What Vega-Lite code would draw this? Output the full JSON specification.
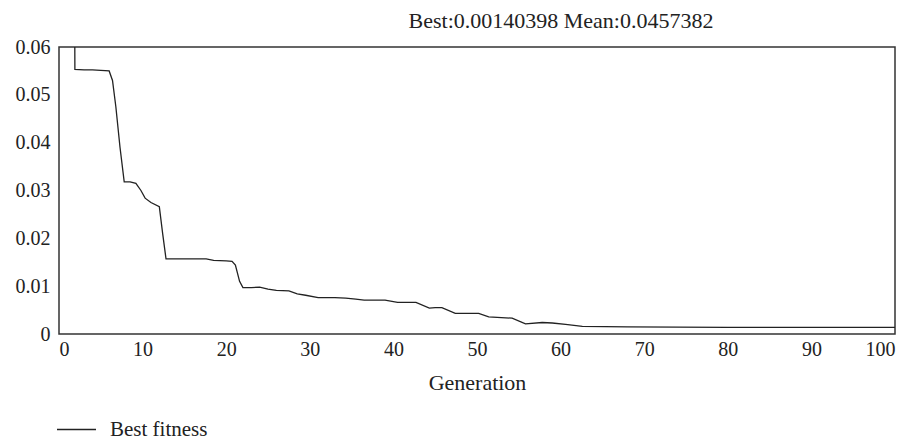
{
  "$schema": "https://vega.github.io/schema/vega-lite/v6.json",
  "width": 836,
  "height": 287,
  "autosize": {"type": "none"},
  "padding": {"left": 59, "top": 47, "right": 21, "bottom": 107},
  "background": "white",
  "title": {
    "text": "Best:0.00140398 Mean:0.0457382",
    "font": "Liberation Serif",
    "fontSize": 22,
    "fontWeight": "normal",
    "color": "#222",
    "anchor": "middle",
    "dx": 84,
    "offset": 4
  },
  "config": {
    "view": {"stroke": "#333", "strokeWidth": 1.5},
    "axis": {
      "labelFont": "Liberation Serif",
      "titleFont": "Liberation Serif",
      "labelColor": "#222",
      "titleColor": "#222",
      "labelFontSize": 20,
      "titleFontSize": 22,
      "titleFontWeight": "normal",
      "domain": false,
      "ticks": false,
      "grid": false
    },
    "legend": {
      "labelFont": "Liberation Serif",
      "labelFontSize": 21,
      "labelColor": "#222"
    }
  },
  "data": {
    "values": [
      {"gen": 1.85, "fitness": 0.08},
      {"gen": 1.9, "fitness": 0.0553},
      {"gen": 3, "fitness": 0.0552},
      {"gen": 4, "fitness": 0.0552},
      {"gen": 5, "fitness": 0.0551},
      {"gen": 6, "fitness": 0.055},
      {"gen": 6.4, "fitness": 0.053},
      {"gen": 6.8, "fitness": 0.0475},
      {"gen": 7.3, "fitness": 0.039},
      {"gen": 7.8, "fitness": 0.0318},
      {"gen": 8.5, "fitness": 0.0318},
      {"gen": 9.2, "fitness": 0.0315},
      {"gen": 9.8, "fitness": 0.03},
      {"gen": 10.3, "fitness": 0.0284},
      {"gen": 11, "fitness": 0.0275},
      {"gen": 12, "fitness": 0.0266},
      {"gen": 12.4, "fitness": 0.021},
      {"gen": 12.8, "fitness": 0.0157},
      {"gen": 14, "fitness": 0.0157},
      {"gen": 16, "fitness": 0.0157},
      {"gen": 17.6, "fitness": 0.0157},
      {"gen": 18.5, "fitness": 0.0154},
      {"gen": 20, "fitness": 0.0153},
      {"gen": 20.7, "fitness": 0.0152},
      {"gen": 21.1, "fitness": 0.0144},
      {"gen": 21.6, "fitness": 0.011},
      {"gen": 22, "fitness": 0.0097},
      {"gen": 23, "fitness": 0.0097},
      {"gen": 24, "fitness": 0.0098},
      {"gen": 25, "fitness": 0.0094},
      {"gen": 26, "fitness": 0.0091},
      {"gen": 27.5, "fitness": 0.009},
      {"gen": 28.5, "fitness": 0.0084},
      {"gen": 29.5, "fitness": 0.0081},
      {"gen": 31, "fitness": 0.0076},
      {"gen": 33, "fitness": 0.0076},
      {"gen": 34.3, "fitness": 0.0075},
      {"gen": 35.5, "fitness": 0.0073},
      {"gen": 36.5, "fitness": 0.0071},
      {"gen": 39, "fitness": 0.0071},
      {"gen": 40.5, "fitness": 0.0066},
      {"gen": 42.7, "fitness": 0.0066},
      {"gen": 44.3, "fitness": 0.0054},
      {"gen": 45, "fitness": 0.0055},
      {"gen": 45.8, "fitness": 0.0055},
      {"gen": 47.4, "fitness": 0.0043},
      {"gen": 50.2, "fitness": 0.0043},
      {"gen": 51.4, "fitness": 0.0036},
      {"gen": 54.2, "fitness": 0.0033},
      {"gen": 55.8, "fitness": 0.0021},
      {"gen": 57.8, "fitness": 0.0024},
      {"gen": 59, "fitness": 0.0023},
      {"gen": 60.6, "fitness": 0.002},
      {"gen": 62.6, "fitness": 0.0016},
      {"gen": 68, "fitness": 0.0015},
      {"gen": 80, "fitness": 0.0014},
      {"gen": 100, "fitness": 0.0014}
    ]
  },
  "mark": {"type": "line", "clip": true, "strokeWidth": 1.3},
  "encoding": {
    "x": {
      "field": "gen",
      "type": "quantitative",
      "scale": {"domain": [0, 100], "nice": false},
      "axis": {
        "title": "Generation",
        "values": [0, 10, 20, 30, 40, 50, 60, 70, 80, 90, 100],
        "labelPadding": 5,
        "titlePadding": 13
      }
    },
    "y": {
      "field": "fitness",
      "type": "quantitative",
      "scale": {"domain": [0, 0.06], "nice": false, "zero": true},
      "axis": {
        "title": null,
        "values": [0, 0.01, 0.02, 0.03, 0.04, 0.05, 0.06],
        "labelExpr": "datum.value == 0 ? '0' : format(datum.value, '.2f')",
        "labelPadding": 9
      }
    },
    "color": {
      "datum": "Best fitness",
      "type": "nominal",
      "scale": {"range": ["#222"]},
      "legend": {
        "title": null,
        "orient": "none",
        "legendX": -3,
        "legendY": 362,
        "symbolType": "stroke",
        "symbolSize": 1521,
        "symbolStrokeWidth": 1.5,
        "labelOffset": 13
      }
    }
  }
}
